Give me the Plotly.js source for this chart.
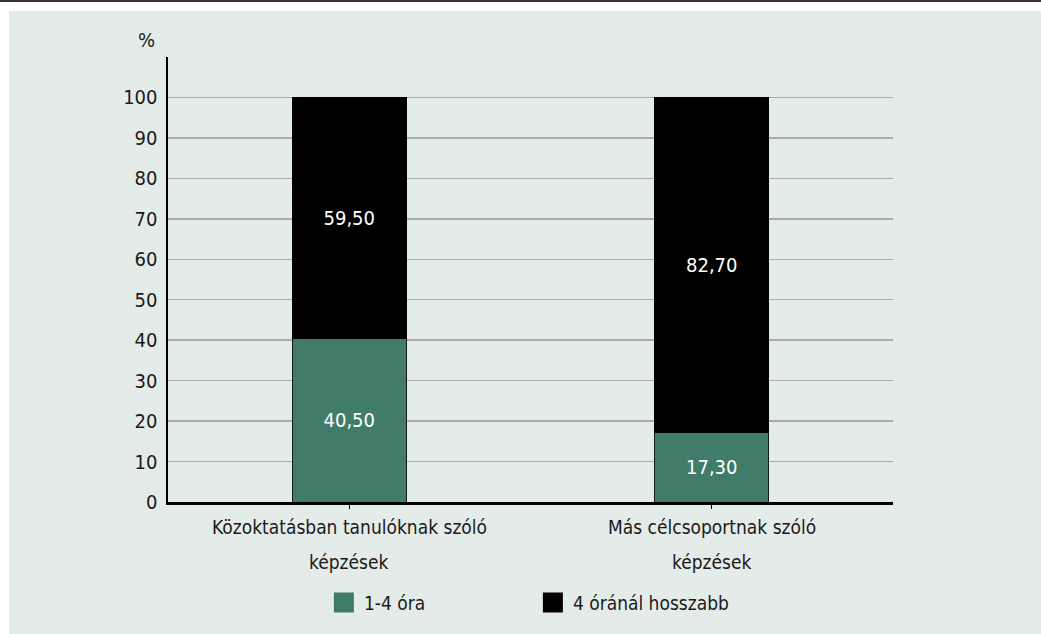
<!DOCTYPE html>
<html>
<head>
<meta charset="utf-8">
<script src="https://cdn.plot.ly/plotly-3.0.1.min.js"></script>
<style>
  html, body { margin: 0; padding: 0; background: #ffffff; width: 1041px; height: 634px; overflow: hidden; }
  #topline { position: absolute; left: 0; top: 0; width: 1041px; height: 2px; background: #333333; }
  #chart { position: absolute; left: 9px; top: 11px; width: 1032px; height: 623px; }
</style>
</head>
<body>
<div id="topline"></div>
<div id="chart"></div>
<script>
const categories = ["Közoktatásban tanulóknak szóló<br>képzések", "Más célcsoportnak szóló<br>képzések"];
const seriesNames = ["1-4 óra", "4 óránál hosszabb"];
const shortHours = [40.5, 17.3];
const longHours = [59.5, 82.7];
const yTicks = [0, 10, 20, 30, 40, 50, 60, 70, 80, 90, 100];
const colors = ["#407c69", "#000000"];

const FONT = "'Liberation Sans Narrow', 'DejaVu Sans Condensed', Arial, sans-serif";
const TXT = '#1a1a1a';
const fmt = v => v.toFixed(2).replace('.', ',');

const traces = [
  {
    type: 'bar', x: categories, y: shortHours, name: seriesNames[0], showlegend: false,
    marker: { color: colors[0], line: { color: '#1a1a1a', width: 1 } },
    text: shortHours.map(fmt), textposition: 'inside', insidetextanchor: 'middle',
    textfont: { color: '#ffffff', size: 20, family: FONT }, hoverinfo: 'none'
  },
  {
    type: 'bar', x: categories, y: longHours, name: seriesNames[1], showlegend: false,
    marker: { color: colors[1], line: { color: '#000000', width: 1 } },
    text: longHours.map(fmt), textposition: 'inside', insidetextanchor: 'middle',
    textfont: { color: '#ffffff', size: 20, family: FONT }, hoverinfo: 'none'
  },
  {
    type: 'scatter', mode: 'markers', x: [null], y: [null], name: seriesNames[0],
    marker: { symbol: 'square', size: 16, color: colors[0], line: { color: colors[0], width: 4 } }
  },
  {
    type: 'scatter', mode: 'markers', x: [null], y: [null], name: seriesNames[1],
    marker: { symbol: 'square', size: 16, color: colors[1], line: { color: colors[1], width: 4 } }
  }
];

// category labels drawn as annotations (one per line) to get the reference's line spacing
const catAnnotations = [];
categories.forEach(c => {
  c.split('<br>').forEach((line, i) => {
    catAnnotations.push({
      xref: 'x', yref: 'paper', x: c, y: -(25 + 35 * i) / 447,
      text: line, showarrow: false, xanchor: 'center', yanchor: 'middle',
      font: { family: FONT, size: 19, color: TXT }
    });
  });
});

const layout = {
  width: 1032, height: 623,
  paper_bgcolor: '#e4ece9', plot_bgcolor: '#e4ece9',
  margin: { l: 159, r: 148, t: 46, b: 130 },
  barmode: 'stack', bargap: 0.685,
  font: { family: FONT, size: 19, color: TXT },
  showlegend: true,
  legend: {
    orientation: 'h', traceorder: 'normal', x: 0.215, xanchor: 'left', y: -0.226, yanchor: 'middle',
    bgcolor: 'rgba(0,0,0,0)', font: { family: FONT, size: 19, color: TXT },
    entrywidth: 164, itemclick: false
  },
  xaxis: {
    type: 'category', showline: true, linecolor: '#000000', linewidth: 2.5,
    ticks: 'outside', ticklen: 4, tickcolor: '#000000', tickwidth: 1,
    showgrid: false, zeroline: false, fixedrange: true, showticklabels: false
  },
  yaxis: {
    range: [0, 110], tickvals: yTicks, ticktext: yTicks.map(String),
    showline: true, linecolor: '#000000', linewidth: 2.5,
    ticks: '', showgrid: true, gridcolor: '#acacac', gridwidth: 1.5,
    zeroline: false, fixedrange: true, ticklabelstandoff: 4,
    tickfont: { family: FONT, size: 20, color: TXT }
  },
  annotations: [
    { xref: 'paper', yref: 'paper', x: -0.029, y: 1.038, text: '%', showarrow: false,
      xanchor: 'center', yanchor: 'middle', font: { family: FONT, size: 20, color: TXT } }
  ].concat(catAnnotations)
};

Plotly.newPlot('chart', traces, layout, { displayModeBar: false, staticPlot: true });
</script>
</body>
</html>
